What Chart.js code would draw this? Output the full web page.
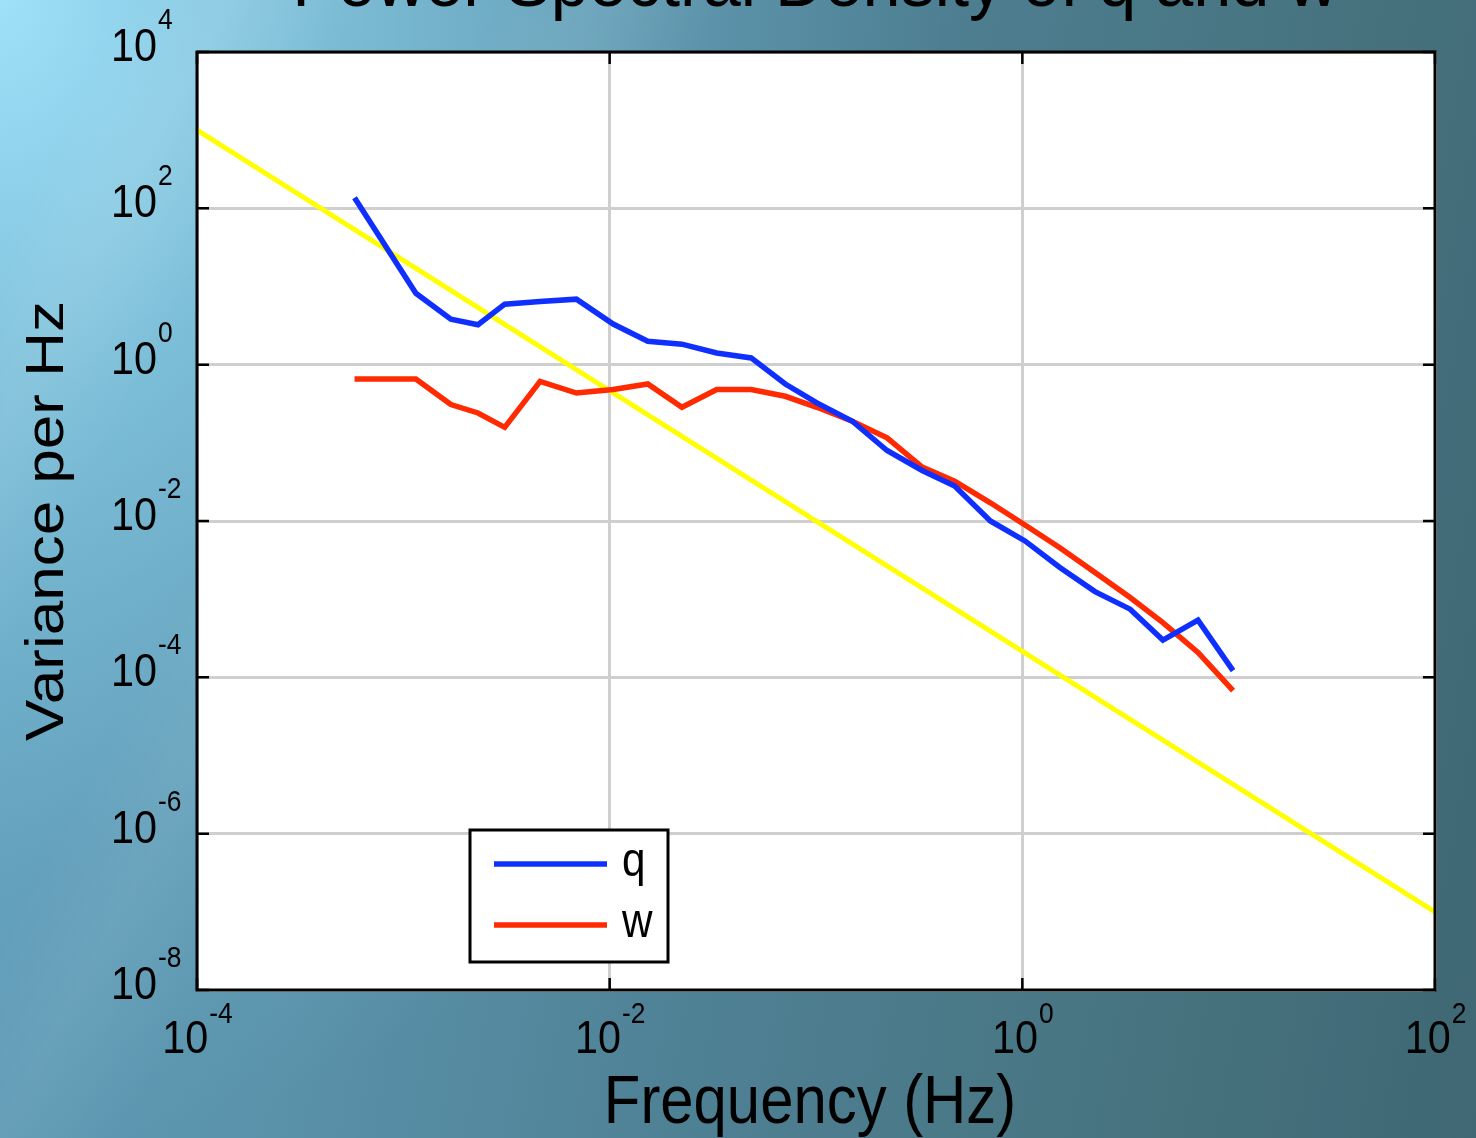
<!DOCTYPE html>
<html>
<head>
<meta charset="utf-8">
<title>Power Spectral Density of q and w</title>
<script src="https://cdn.jsdelivr.net/npm/chart.js@4.4.1/dist/chart.umd.min.js"></script>
<style>
  html, body { margin: 0; padding: 0; }
  body {
    width: 1476px; height: 1138px; overflow: hidden;
    background:
      linear-gradient(118deg, rgba(255,255,255,0) 6%, rgba(255,255,255,0.08) 11%, rgba(255,255,255,0) 17%, rgba(255,255,255,0) 24%, rgba(255,255,255,0.06) 29%, rgba(255,255,255,0) 35%),
      radial-gradient(ellipse 950px 1150px at 0% 0%, rgba(165,232,255,0.9) 0%, rgba(150,220,245,0.55) 35%, rgba(140,210,240,0.15) 75%, rgba(140,210,240,0) 100%),
      linear-gradient(100deg, #5f9dba 0%, #5a92aa 28%, #4f8195 52%, #477480 78%, #3f6774 100%);
  }
  canvas { display: block; }
</style>
</head>
<body>
<canvas id="psd" width="1476" height="1138"></canvas>
<script>
(function () {
  'use strict';

  // band centre frequencies (Hz)
  var freqHz = [5.8e-4, 1.15e-3, 1.7e-3, 2.3e-3, 3.1e-3, 4.6e-3, 6.9e-3, 1.04e-2, 1.53e-2, 2.24e-2,
                3.3e-2, 4.85e-2, 7.1e-2, 0.101, 0.150, 0.221, 0.327, 0.47, 0.70, 1.03,
                1.52, 2.25, 3.33, 4.8, 7.1, 10.5];
  // variance per Hz
  var qPsd = [137, 8.2, 3.82, 3.24, 5.94, 6.43, 6.89, 3.31, 1.99, 1.83,
              1.41, 1.22, 0.566, 0.324, 0.189, 0.0798, 0.0443, 0.028, 0.0100, 0.00556,
              0.00254, 0.00125, 7.45e-4, 3.0e-4, 5.4e-4, 1.22e-4];
  var wPsd = [0.655, 0.655, 0.309, 0.241, 0.158, 0.612, 0.434, 0.48, 0.566, 0.285,
              0.48, 0.48, 0.394, 0.285, 0.189, 0.116, 0.0489, 0.0324, 0.0171, 0.00889,
              0.00456, 0.00219, 0.00105, 5.02e-4, 2.08e-4, 6.75e-5];
  // -5/3 reference slope
  var slopeHz = [1e-4, 1e2];
  var slopePsd = [1e3, 1e-7];

  var xTickExps = [-4, -2, 0, 2];
  var yTickExps = [-8, -6, -4, -2, 0, 2, 4];

  var FONT = '"Liberation Sans", Arial, Helvetica, sans-serif';
  var SQUEEZE = 0.88;

  function pts(xs, ys) {
    return xs.map(function (x, i) { return { x: x, y: ys[i] }; });
  }

  function text(ctx, s, x, y, size, align) {
    ctx.save();
    ctx.translate(x, y);
    ctx.scale(SQUEEZE, 1);
    ctx.font = size + 'px ' + FONT;
    ctx.textAlign = align || 'left';
    ctx.textBaseline = 'alphabetic';
    ctx.fillStyle = '#000';
    ctx.fillText(s, 0, 0);
    ctx.restore();
  }

  function width(ctx, s, size) {
    ctx.save();
    ctx.font = size + 'px ' + FONT;
    var w = ctx.measureText(s).width * SQUEEZE;
    ctx.restore();
    return w;
  }

  function decadeTicks(exps) {
    return function (scale) {
      scale.ticks = exps.map(function (e) { return { value: Math.pow(10, e) }; });
    };
  }

  // frame, inward tick marks, power-of-ten labels, titles and legend
  var axesBox = {
    id: 'axesBox',
    afterDraw: function (chart) {
      var ctx = chart.ctx;
      var a = chart.chartArea;
      var xs = chart.scales.x, ys = chart.scales.y;
      var TL = 12;

      ctx.save();
      ctx.strokeStyle = '#000';
      ctx.lineWidth = 2.5;
      ctx.beginPath();
      xs.ticks.forEach(function (t) {
        var px = xs.getPixelForValue(t.value);
        ctx.moveTo(px, a.top); ctx.lineTo(px, a.top + TL);
        ctx.moveTo(px, a.bottom); ctx.lineTo(px, a.bottom - TL);
      });
      ys.ticks.forEach(function (t) {
        var py = ys.getPixelForValue(t.value);
        ctx.moveTo(a.left, py); ctx.lineTo(a.left + TL, py);
        ctx.moveTo(a.right, py); ctx.lineTo(a.right - TL, py);
      });
      ctx.stroke();
      ctx.lineWidth = 3;
      ctx.strokeRect(a.left, a.top, a.right - a.left, a.bottom - a.top);
      ctx.restore();

      // y tick labels: 10 with superscript exponent
      yTickExps.forEach(function (e) {
        var py = ys.getPixelForValue(Math.pow(10, e));
        var w10 = width(ctx, '10', 47);
        text(ctx, '10', 111, py + 9, 47);
        text(ctx, String(e), 111 + w10 + 1, py - 23, 30);
      });

      // x tick labels
      xTickExps.forEach(function (e) {
        var px = xs.getPixelForValue(Math.pow(10, e));
        var w10 = width(ctx, '10', 47);
        var we = width(ctx, String(e), 30);
        var x0 = px - (w10 + we) / 2;
        text(ctx, '10', x0, 1053, 47);
        text(ctx, String(e), x0 + w10 + 1, 1023, 30);
      });

      // axis titles
      text(ctx, 'Frequency (Hz)', 810, 1123, 68, 'center');
      ctx.save();
      ctx.translate(63, (a.top + a.bottom) / 2);
      ctx.rotate(-Math.PI / 2);
      ctx.scale(1, SQUEEZE);
      ctx.font = '62px ' + FONT;
      ctx.textAlign = 'center';
      ctx.fillStyle = '#000';
      ctx.fillText('Variance per Hz', 0, 0);
      ctx.restore();

      // chart title
      ctx.save();
      ctx.translate(815, 6);
      ctx.scale(0.95, 1);
      ctx.font = '72px ' + FONT;
      ctx.textAlign = 'center';
      ctx.fillStyle = '#000';
      ctx.fillText('Power Spectral Density of q and w', 0, 0);
      ctx.restore();

      // legend box
      ctx.save();
      ctx.fillStyle = '#fff';
      ctx.fillRect(470, 830, 198, 132);
      ctx.strokeStyle = '#000';
      ctx.lineWidth = 3;
      ctx.strokeRect(470, 830, 198, 132);
      chart.data.datasets.slice(0, 2).forEach(function (ds, i) {
        var ly = 864 + i * 61;
        ctx.strokeStyle = ds.borderColor;
        ctx.lineWidth = ds.borderWidth;
        ctx.beginPath();
        ctx.moveTo(494, ly); ctx.lineTo(607, ly);
        ctx.stroke();
        text(ctx, ds.label, 622, ly + 12, 48);
      });
      ctx.restore();
    }
  };

  function logAxis(min, max, exps) {
    return {
      type: 'logarithmic',
      min: min, max: max,
      afterBuildTicks: decadeTicks(exps),
      ticks: { display: false },
      border: { display: false },
      grid: { color: '#cfcfcf', lineWidth: 3, drawTicks: false }
    };
  }

  new Chart(document.getElementById('psd').getContext('2d'), {
    type: 'line',
    data: {
      datasets: [
        { label: 'q', data: pts(freqHz, qPsd), borderColor: '#0f2fff', borderWidth: 5.5 },
        { label: 'w', data: pts(freqHz, wPsd), borderColor: '#ff2a00', borderWidth: 5.5 },
        { label: 'slope', data: pts(slopeHz, slopePsd), borderColor: '#ffff00', borderWidth: 5 }
      ]
    },
    options: {
      responsive: false,
      animation: false,
      devicePixelRatio: 1,
      elements: { point: { radius: 0, hoverRadius: 0 }, line: { tension: 0, fill: false } },
      layout: { padding: { left: 197, right: 41, top: 52, bottom: 148 } },
      plugins: { legend: { display: false }, tooltip: { enabled: false }, title: { display: false } },
      scales: {
        x: logAxis(1e-4, 1e2, xTickExps),
        y: logAxis(1e-8, 1e4, yTickExps)
      }
    },
    plugins: [
      {
        id: 'plotBg',
        beforeDraw: function (chart) {
          var a = chart.chartArea;
          chart.ctx.save();
          chart.ctx.fillStyle = '#fff';
          chart.ctx.fillRect(a.left, a.top, a.right - a.left, a.bottom - a.top);
          chart.ctx.restore();
        }
      },
      axesBox
    ]
  });
})();
</script>
</body>
</html>
